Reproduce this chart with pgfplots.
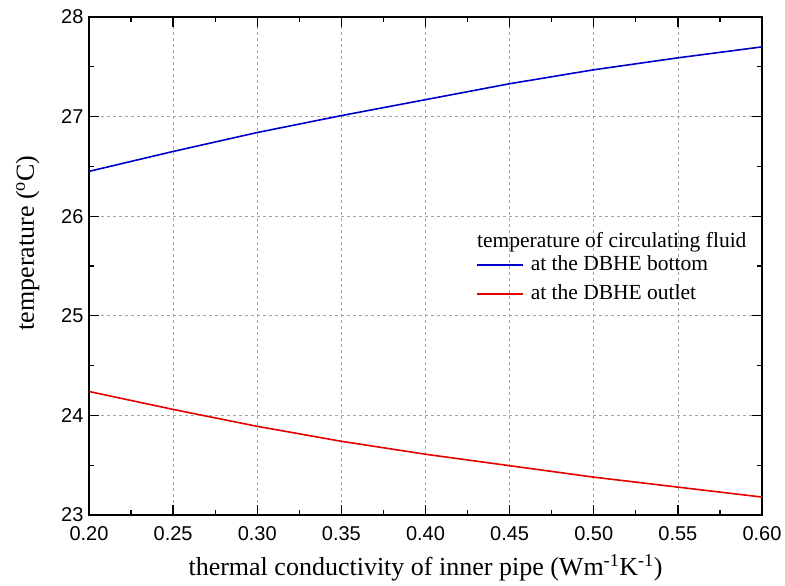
\documentclass[border=0pt]{standalone}
\usepackage{pgfplots}
\pgfplotsset{compat=1.18}
\usepackage{fontspec}
\setmainfont{Liberation Serif}
\newfontfamily\arial{Liberation Sans}
\begin{document}
\begin{tikzpicture}
\begin{axis}[
  at={(89pt,71pt)}, anchor=south west,
  width=673pt, height=498pt, scale only axis,
  xmin=0.2, xmax=0.6, ymin=23, ymax=28,
  xtick={0.2,0.25,...,0.61}, ytick={23,24,...,28},
  minor x tick num=1, minor y tick num=1,
  tick align=inside, major tick length=10pt, minor tick length=5pt,
  tick style={black, line width=1.3pt},
  axis line style={line width=1.8pt},
  grid=major, major grid style={gray!70, dashed, line width=0.7pt},
  x tick label style={/pgf/number format/fixed, /pgf/number format/fixed zerofill, /pgf/number format/precision=2, yshift=-8pt},
  /pgf/number format/assume math mode=true,
  ticklabel style={font=\arial\fontsize{20}{22}\selectfont},
  y tick label style={xshift=-2pt},
  xlabel={thermal conductivity of inner pipe (Wm\textsuperscript{-1}K\textsuperscript{-1})},
  ylabel={temperature (\textsuperscript{o}C)},
  label style={font=\fontsize{26}{30}\selectfont},
  xlabel style={yshift=-7pt},
  ylabel style={at={(ticklabel cs:0.546)}, yshift=15pt},
  legend style={at={(0.575,0.527)}, anchor=north west, draw=none, fill=none,
    font=\fontsize{21.5}{24}\selectfont, row sep=4pt, column sep=5pt, inner sep=0pt,
    nodes={text height=16pt, text depth=5pt}},
  legend cell align=left,
  legend image code/.code={\draw (0pt,0pt) -- (46pt,0pt);},
]
\addplot[blue!80!black, line width=1.6pt] coordinates {
(0.20,26.45) (0.25,26.65) (0.30,26.84) (0.35,27.01) (0.40,27.17) (0.45,27.33) (0.50,27.47) (0.55,27.59) (0.60,27.70)};
\addlegendentry{at the DBHE bottom}
\addplot[red!90!black, line width=1.6pt] coordinates {
(0.20,24.24) (0.25,24.06) (0.30,23.89) (0.35,23.74) (0.40,23.61) (0.45,23.495) (0.50,23.38) (0.55,23.28) (0.60,23.18)};
\addlegendentry{at the DBHE outlet}
\node[anchor=base west, font=\fontsize{21.5}{24}\selectfont, inner sep=0pt] at (rel axis cs:0.5765,0.538) {temperature of circulating fluid};
\end{axis}
\pgfresetboundingbox
\path[use as bounding box] (0pt,0pt) rectangle (785pt,586pt);
\end{tikzpicture}
\end{document}
